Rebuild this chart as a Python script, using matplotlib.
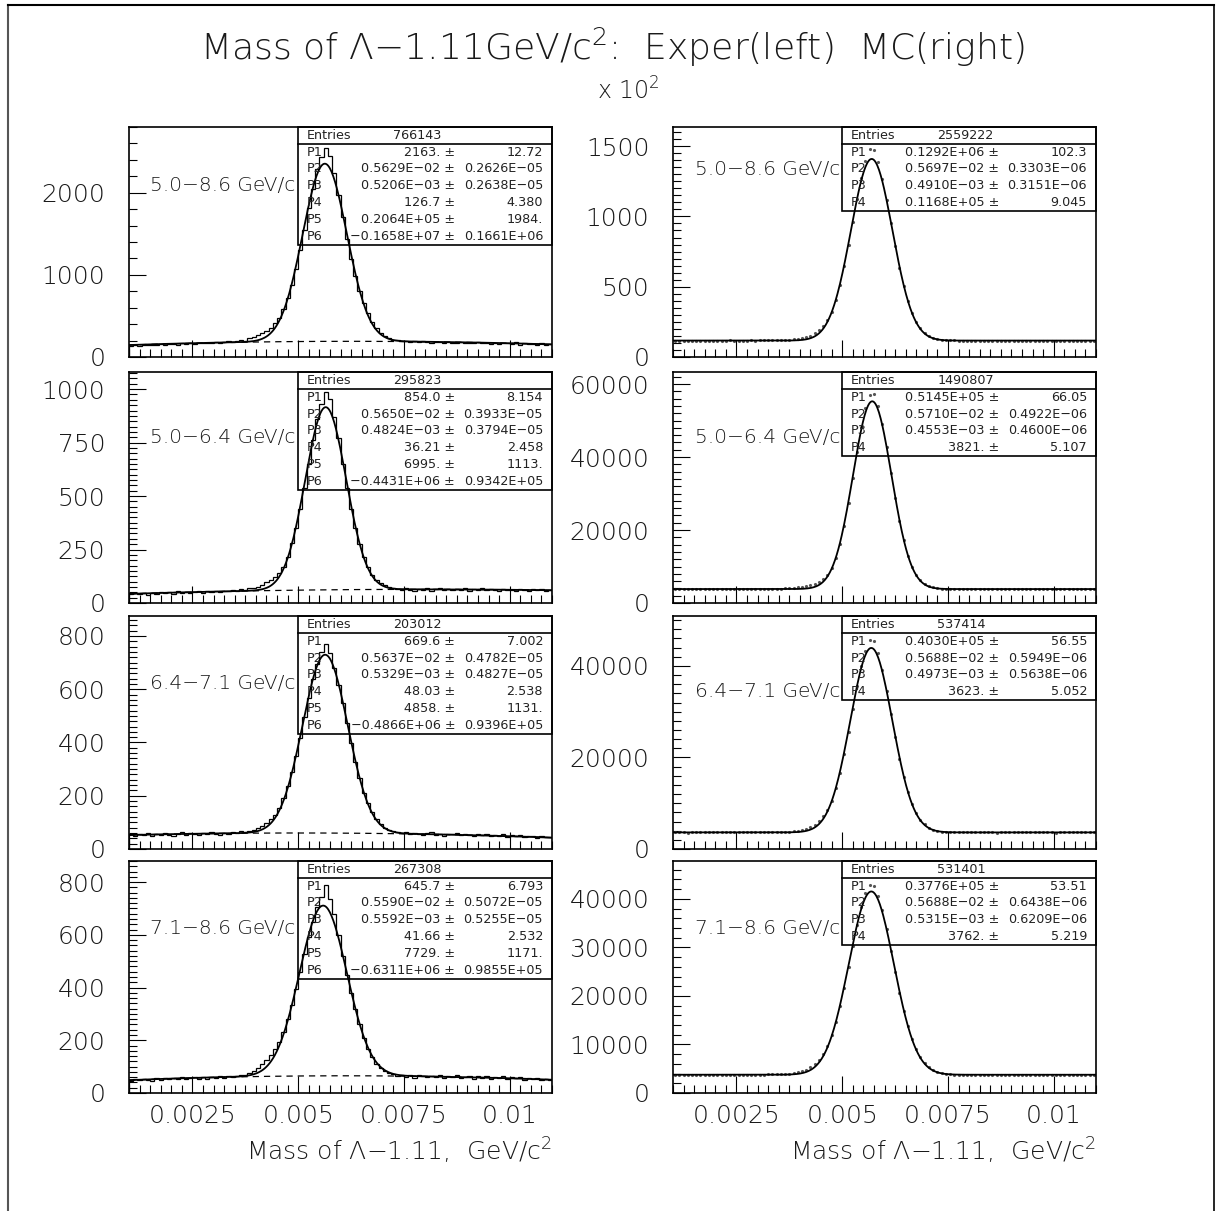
import matplotlib.pyplot as plt
import numpy as np
from matplotlib.ticker import MultipleLocator, FuncFormatter
from matplotlib.patches import Rectangle
from matplotlib.lines import Line2D

plt.rcParams['font.family'] = ['DejaVu Sans']
plt.rcParams['font.weight'] = 200
plt.rcParams['mathtext.default'] = 'regular'

# 100 bins of 0.0001 GeV between 0.001 and 0.011
x_lo, x_hi, n_bins = 0.001, 0.011, 100

ranges = ["5.0−8.6 GeV/c", "5.0−6.4 GeV/c", "6.4−7.1 GeV/c", "7.1−8.6 GeV/c"]

# experiment histograms (left column)
exp_counts_1 = [138, 142, 139, 147, 144, 150, 141, 153, 149, 158,
                163, 150, 167, 158, 171, 162, 166, 175, 168, 170,
                181, 172, 185, 190, 186, 199, 205, 197, 228, 240,
                262, 295, 322, 356, 418, 478, 585, 720, 880, 1075,
                1300, 1550, 1812, 2050, 2285, 2440, 2548, 2445, 2240, 1975,
                1705, 1440, 1195, 985, 805, 655, 530, 430, 352, 296,
                255, 228, 212, 203, 190, 195, 184, 190, 178, 189,
                183, 176, 187, 180, 173, 186, 175, 169, 182, 171,
                176, 165, 180, 168, 171, 162, 174, 160, 166, 172,
                158, 180, 152, 170, 155, 163, 150, 166, 152, 160]
exp_counts_2 = [40, 47, 41, 46, 38, 49, 44, 52, 45, 50,
                43, 55, 47, 53, 46, 50, 56, 48, 54, 51,
                57, 50, 58, 55, 61, 58, 64, 62, 68, 72,
                76, 84, 96, 108, 122, 140, 170, 215, 280, 350,
                440, 540, 650, 760, 860, 930, 985, 955, 870, 770,
                650, 540, 440, 352, 275, 215, 168, 132, 108, 92,
                84, 76, 70, 67, 60, 68, 63, 57, 66, 61,
                69, 58, 64, 72, 60, 65, 59, 67, 62, 70,
                57, 64, 61, 68, 59, 65, 62, 56, 66, 60,
                63, 58, 67, 61, 55, 64, 59, 66, 57, 62]
exp_counts_3 = [55, 49, 57, 52, 60, 50, 56, 53, 61, 54,
                49, 58, 62, 53, 59, 55, 51, 60, 56, 63,
                57, 54, 61, 58, 64, 60, 66, 63, 67, 72,
                78, 88, 98, 112, 128, 155, 190, 235, 290, 350,
                418, 495, 568, 640, 695, 738, 770, 735, 680, 615,
                548, 472, 398, 328, 265, 212, 172, 140, 112, 95,
                80, 72, 68, 62, 60, 64, 55, 61, 58, 52,
                59, 63, 54, 57, 50, 58, 55, 60, 51, 56,
                53, 48, 57, 52, 55, 47, 53, 50, 56, 46,
                51, 48, 54, 45, 50, 47, 43, 49, 44, 46]
exp_counts_4 = [46, 53, 48, 55, 50, 47, 56, 51, 58, 52,
                57, 54, 60, 53, 58, 62, 55, 59, 54, 61,
                57, 63, 58, 65, 59, 64, 67, 68, 74, 84,
                95, 110, 125, 145, 168, 195, 232, 280, 335, 395,
                460, 528, 590, 650, 705, 745, 790, 735, 680, 598,
                520, 448, 380, 318, 260, 210, 168, 138, 110, 96,
                82, 76, 71, 66, 69, 61, 67, 58, 70, 63,
                59, 66, 61, 68, 56, 64, 60, 67, 57, 62,
                65, 55, 63, 58, 66, 54, 61, 57, 63, 52,
                59, 56, 61, 50, 57, 53, 58, 49, 55, 51]

# Monte Carlo histograms (right column)
mc_counts_1 = [11650, 11710, 11690, 11640, 11720, 11670, 11700, 11660, 11730, 11680,
               11650, 11710, 11690, 11740, 11670, 11700, 11720, 11680, 11750, 11710,
               11760, 11800, 11840, 11900, 11950, 12050, 12150, 12280, 12540, 12910,
               13450, 14180, 15260, 16780, 18910, 21920, 26175, 32300, 40580, 51250,
               64440, 79690, 96080, 112330, 127005, 139500, 147800, 147300, 139000, 126360,
               111420, 95050, 78660, 63540, 50540, 39730, 31320, 24940, 20380, 17150,
               14970, 13610, 12760, 12230, 11950, 11820, 11760, 11720, 11700, 11660,
               11690, 11720, 11650, 11680, 11710, 11670, 11690, 11640, 11700, 11680,
               11660, 11710, 11690, 11650, 11680, 11700, 11670, 11640, 11690, 11710,
               11660, 11680, 11650, 11700, 11670, 11690, 11660, 11680, 11650, 11670]
mc_counts_2 = [3810, 3835, 3820, 3800, 3840, 3815, 3825, 3805, 3845, 3820,
               3810, 3830, 3825, 3850, 3815, 3835, 3840, 3825, 3855, 3840,
               3860, 3870, 3880, 3900, 3920, 3950, 3990, 4050, 4130, 4250,
               4410, 4605, 4880, 5255, 5780, 6540, 7720, 9580, 12345, 16180,
               21230, 27350, 34290, 41480, 48100, 53380, 56900, 57200, 54100, 49185,
               42770, 35680, 28690, 22360, 17160, 12985, 9945, 7730, 6260, 5280,
               4655, 4285, 4070, 3940, 3880, 3850, 3830, 3815, 3825, 3805,
               3835, 3820, 3810, 3840, 3815, 3825, 3800, 3830, 3820, 3810,
               3835, 3825, 3805, 3820, 3830, 3815, 3840, 3810, 3825, 3820,
               3800, 3835, 3815, 3825, 3810, 3830, 3820, 3805, 3825, 3815]
mc_counts_3 = [3610, 3635, 3620, 3600, 3640, 3615, 3625, 3605, 3645, 3620,
               3610, 3630, 3625, 3650, 3615, 3635, 3640, 3625, 3655, 3640,
               3660, 3670, 3680, 3700, 3710, 3730, 3760, 3810, 3900, 4020,
               4200, 4460, 4830, 5350, 6090, 7120, 8555, 10580, 13280, 16710,
               20845, 25600, 30655, 35610, 40030, 43330, 45600, 45400, 42770, 39170,
               34545, 29490, 24430, 19755, 15765, 12440, 9830, 7835, 6405, 5390,
               4695, 4250, 3975, 3800, 3710, 3660, 3630, 3615, 3625, 3605,
               3635, 3620, 3610, 3640, 3615, 3625, 3600, 3630, 3620, 3610,
               3635, 3625, 3605, 3620, 3630, 3615, 3640, 3610, 3625, 3620,
               3600, 3635, 3615, 3625, 3610, 3630, 3620, 3605, 3625, 3615]
mc_counts_4 = [3750, 3775, 3760, 3740, 3780, 3755, 3765, 3745, 3785, 3760,
               3750, 3770, 3765, 3790, 3755, 3775, 3780, 3765, 3795, 3780,
               3800, 3810, 3820, 3840, 3850, 3870, 3905, 3980, 4075, 4235,
               4470, 4795, 5280, 5960, 6880, 8100, 9720, 11865, 14565, 17875,
               21690, 25940, 30355, 34610, 38360, 41140, 42900, 42700, 40680, 37640,
               33705, 29355, 24915, 20705, 16985, 13755, 11100, 8985, 7365, 6160,
               5295, 4710, 4325, 4075, 3915, 3845, 3790, 3760, 3770, 3745,
               3775, 3760, 3750, 3780, 3755, 3765, 3740, 3770, 3760, 3750,
               3775, 3765, 3745, 3760, 3770, 3755, 3780, 3750, 3765, 3760,
               3740, 3775, 3755, 3765, 3750, 3770, 3760, 3745, 3765, 3755]

exp_entries = [766143, 295823, 203012, 267308]
mc_entries = [2559222, 1490807, 537414, 531401]

# fit parameters (value, error) as printed in the stat boxes
exp_pars_1 = [("2163.", "12.72"), ("0.5629E-02", "0.2626E-05"), ("0.5206E-03", "0.2638E-05"),
              ("126.7", "4.380"), ("0.2064E+05", "1984."), ("-0.1658E+07", "0.1661E+06")]
exp_pars_2 = [("854.0", "8.154"), ("0.5650E-02", "0.3933E-05"), ("0.4824E-03", "0.3794E-05"),
              ("36.21", "2.458"), ("6995.", "1113."), ("-0.4431E+06", "0.9342E+05")]
exp_pars_3 = [("669.6", "7.002"), ("0.5637E-02", "0.4782E-05"), ("0.5329E-03", "0.4827E-05"),
              ("48.03", "2.538"), ("4858.", "1131."), ("-0.4866E+06", "0.9396E+05")]
exp_pars_4 = [("645.7", "6.793"), ("0.5590E-02", "0.5072E-05"), ("0.5592E-03", "0.5255E-05"),
              ("41.66", "2.532"), ("7729.", "1171."), ("-0.6311E+06", "0.9855E+05")]
mc_pars_1 = [("0.1292E+06", "102.3"), ("0.5697E-02", "0.3303E-06"), ("0.4910E-03", "0.3151E-06"),
             ("0.1168E+05", "9.045")]
mc_pars_2 = [("0.5145E+05", "66.05"), ("0.5710E-02", "0.4922E-06"), ("0.4553E-03", "0.4600E-06"),
             ("3821.", "5.107")]
mc_pars_3 = [("0.4030E+05", "56.55"), ("0.5688E-02", "0.5949E-06"), ("0.4973E-03", "0.5638E-06"),
             ("3623.", "5.052")]
mc_pars_4 = [("0.3776E+05", "53.51"), ("0.5688E-02", "0.6438E-06"), ("0.5315E-03", "0.6209E-06"),
             ("3762.", "5.219")]

exp_counts = [exp_counts_1, exp_counts_2, exp_counts_3, exp_counts_4]
mc_counts = [mc_counts_1, mc_counts_2, mc_counts_3, mc_counts_4]
exp_pars = [exp_pars_1, exp_pars_2, exp_pars_3, exp_pars_4]
mc_pars = [mc_pars_1, mc_pars_2, mc_pars_3, mc_pars_4]

# axis settings: (ymax, major step, minor step)
exp_axes = [(2800, 1000, 200), (1080, 250, 25), (875, 200, 20), (880, 200, 20)]
mc_axes = [(163600, 50000, 5000), (63300, 20000, 2000), (50900, 20000, 2000), (47800, 10000, 2000)]
exp_label_y = [0.746, 0.716, 0.712, 0.707]
mc_label_y = [0.815, 0.716, 0.678, 0.707]

TXT = '#1a1a1a'
W, H = 1219, 1211
rows_px = [(127, 357), (372, 603), (616, 849), (861, 1093)]
cols_px = [129, 673]
AXW = 423


def fit_curve(x, pars):
    p = [float(v) for v, e in pars]
    y = p[0] * np.exp(-0.5 * ((x - p[1]) / p[2]) ** 2) + p[3]
    if len(p) > 4:
        y = y + p[4] * x + p[5] * x ** 2
    return y


def background(x, pars):
    p = [float(v) for v, e in pars]
    return p[3] + p[4] * x + p[5] * x ** 2


def stats_box(ax, entries, pars, height_px):
    rowh = 16.8 / height_px
    n = len(pars) + 1
    ax.add_patch(Rectangle((0.40, 1 - n * rowh), 0.60, n * rowh, transform=ax.transAxes,
                           fill=False, lw=1.2, ec='k', clip_on=False, zorder=5))
    ax.add_line(Line2D([0.40, 1.0], [1 - rowh, 1 - rowh], transform=ax.transAxes,
                       color='k', lw=1.2, zorder=5))
    kw = dict(transform=ax.transAxes, fontsize=9.2, fontweight='normal', color='#222222',
              va='center', zorder=6)
    ax.text(0.42, 1 - 0.5 * rowh, "Entries", ha='left', **kw)
    ax.text(0.625, 1 - 0.5 * rowh, str(entries), ha='left', **kw)
    for i, (v, e) in enumerate(pars):
        y = 1 - (i + 1.5) * rowh
        ax.text(0.42, y, "P%d" % (i + 1), ha='left', **kw)
        ax.text(0.771, y, v.replace('-', '−') + " ±", ha='right', **kw)
        ax.text(0.979, y, e.replace('-', '−'), ha='right', **kw)


def setup_axis(ax, ymax, major, minor, bottom):
    ax.set_xlim(x_lo, x_hi)
    ax.set_ylim(0, ymax)
    ax.xaxis.set_major_locator(MultipleLocator(0.0025))
    ax.xaxis.set_minor_locator(MultipleLocator(0.00025))
    ax.yaxis.set_major_locator(MultipleLocator(major))
    ax.yaxis.set_minor_locator(MultipleLocator(minor))
    ax.xaxis.set_major_formatter(FuncFormatter(lambda v, pos: "%g" % round(v, 6)))
    ax.tick_params(which='both', direction='in', top=False, right=False,
                   width=0.8, labelsize=18, labelcolor=TXT)
    ax.tick_params(which='major', length=12)
    ax.tick_params(which='minor', length=6)
    ax.tick_params(axis='y', pad=17)
    ax.tick_params(axis='x', pad=8, labelbottom=bottom)
    for s in ax.spines.values():
        s.set_linewidth(1.2)


fig = plt.figure(figsize=(W / 100, H / 100), dpi=100)

edges = np.linspace(x_lo, x_hi, n_bins + 1)
centers = 0.5 * (edges[:-1] + edges[1:])
xf = np.linspace(x_lo, x_hi, 500)

for r, (top, bot) in enumerate(rows_px):
    hpx = bot - top
    bottom = (r == len(rows_px) - 1)

    # experiment
    ax = fig.add_axes([cols_px[0] / W, 1 - bot / H, AXW / W, hpx / H])
    ax.stairs(exp_counts[r], edges, color='k', lw=0.9)
    ax.plot(xf, fit_curve(xf, exp_pars[r]), color='k', lw=1.3)
    ax.plot(xf, background(xf, exp_pars[r]), color='k', lw=0.9, ls=(0, (5, 4)))
    ymax, major, minor = exp_axes[r]
    setup_axis(ax, ymax, major, minor, bottom)
    stats_box(ax, exp_entries[r], exp_pars[r], hpx)
    ax.text(0.05, exp_label_y[r], ranges[r], transform=ax.transAxes, fontsize=14.5,
            color=TXT, ha='left', va='center')
    if bottom:
        ax.text(1.0, -(1151 - bot) / hpx, "Mass of Λ−1.11,  GeV/c$^{2}$", transform=ax.transAxes,
                fontsize=18, color=TXT, ha='right', va='center')

    # Monte Carlo
    ax = fig.add_axes([cols_px[1] / W, 1 - bot / H, AXW / W, hpx / H])
    ax.plot(centers, mc_counts[r], ls='none', marker='.', ms=2.5, color='#555555')
    ax.plot(xf, fit_curve(xf, mc_pars[r]), color='k', lw=1.3)
    ymax, major, minor = mc_axes[r]
    setup_axis(ax, ymax, major, minor, bottom)
    if r == 0:
        ax.yaxis.set_major_formatter(FuncFormatter(lambda v, pos: "%d" % round(v / 100)))
    stats_box(ax, mc_entries[r], mc_pars[r], hpx)
    ax.text(0.053, mc_label_y[r], ranges[r], transform=ax.transAxes, fontsize=14.5,
            color=TXT, ha='left', va='center')
    if bottom:
        ax.text(1.0, -(1151 - bot) / hpx, "Mass of Λ−1.11,  GeV/c$^{2}$", transform=ax.transAxes,
                fontsize=18, color=TXT, ha='right', va='center')

fig.text(612 / W, 1 - 47 / H, "Mass of Λ−1.11GeV/c$^{2}$:  Exper(left)  MC(right)",
         fontsize=26, color=TXT, ha='center', va='center')
fig.text(597 / W, 1 - 91 / H, "x 10$^{2}$", fontsize=17, color=TXT, ha='left', va='center')

# page frame (top, left, right)
fig.add_artist(Line2D([8 / W, 8 / W], [0, 1 - 5 / H], color='#555555', lw=1.5))
fig.add_artist(Line2D([8 / W, 1214 / W], [1 - 5 / H, 1 - 5 / H], color='k', lw=1.5))
fig.add_artist(Line2D([1214 / W, 1214 / W], [0, 1 - 5 / H], color='k', lw=1.2))

fig.savefig("out.png", dpi=100)
